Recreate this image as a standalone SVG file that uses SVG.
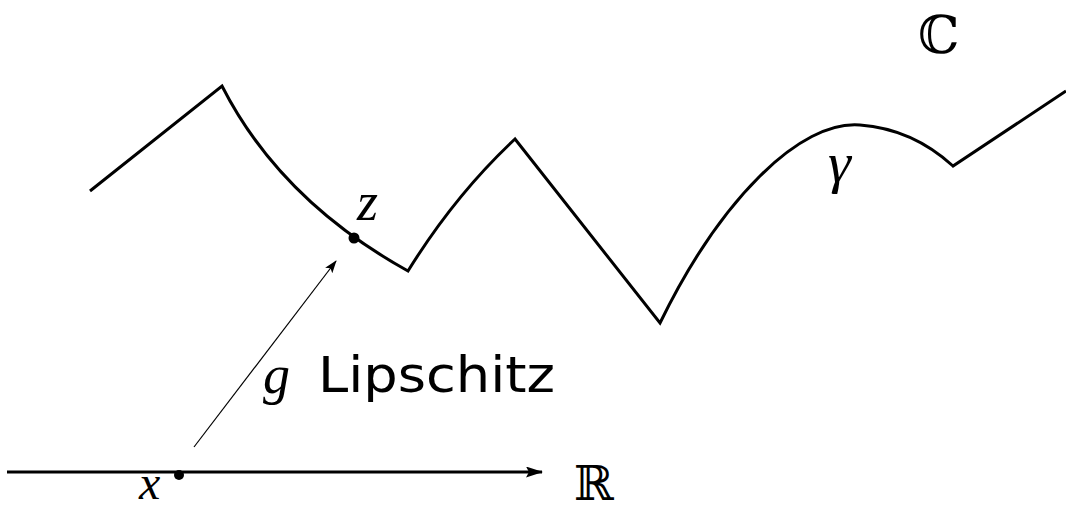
<svg xmlns="http://www.w3.org/2000/svg" width="1066" height="510" viewBox="0 0 1066 510">
<style>
.curve{fill:none;stroke:#000;stroke-width:3;stroke-linejoin:miter}
.math{font-family:"Liberation Serif","DejaVu Serif",serif;font-style:italic;fill:#000}
.bb{font-family:"DejaVu Serif","DejaVu Sans",serif;fill:#000}
.sans{font-family:"DejaVu Sans","Liberation Sans",sans-serif;fill:#000}
</style>
<defs>
<marker id="ahThin" markerWidth="13" markerHeight="9" refX="12" refY="4.5" orient="auto" markerUnits="userSpaceOnUse">
<path d="M0,0 L13,4.5 L0,9 L3,4.5 Z" fill="#000"/>
</marker>
<marker id="ahAxis" markerWidth="17" markerHeight="11" refX="16" refY="5.5" orient="auto" markerUnits="userSpaceOnUse">
<path d="M0,0 L17,5.5 L0,11 L3,5.5 Z" fill="#000"/>
</marker>
</defs>
<rect width="1066" height="510" fill="#fff"/>
<g id="connectors">
<path id="gamma-curve" class="curve" d="M90,191 L222,86 Q280,200 408,271 Q455,195 515,139 L660,323 C720,200 800,120 860,125 C900,128 930,145 953,166 L1066,91"/>
<line id="axis" x1="7" y1="472" x2="542" y2="472" stroke="#000" stroke-width="3" marker-end="url(#ahAxis)"/>
<line id="g-arrow" x1="194" y1="447" x2="336" y2="261" stroke="#000" stroke-width="1.2" marker-end="url(#ahThin)"/>
</g>
<g id="node-z">
<circle cx="354" cy="238" r="5.5" fill="#000"/>
<text class="math" x="357" y="220" font-size="54">z</text>
</g>
<g id="node-x">
<circle cx="179" cy="475" r="5" fill="#000"/>
<text class="math" x="139" y="499" font-size="48">x</text>
</g>
<g id="label-R">
<text class="bb" x="574" y="500" font-size="48">ℝ</text>
</g>
<g id="label-C">
<text class="bb" x="918" y="53" font-size="52">ℂ</text>
</g>
<g id="label-gamma">
<text class="math" x="828" y="182" font-size="58">γ</text>
</g>
<g id="label-g">
<text class="math" x="263" y="393" font-size="54">g</text>
<text class="sans" x="318" y="392" font-size="49" textLength="237" lengthAdjust="spacingAndGlyphs">Lipschitz</text>
</g>
</svg>
